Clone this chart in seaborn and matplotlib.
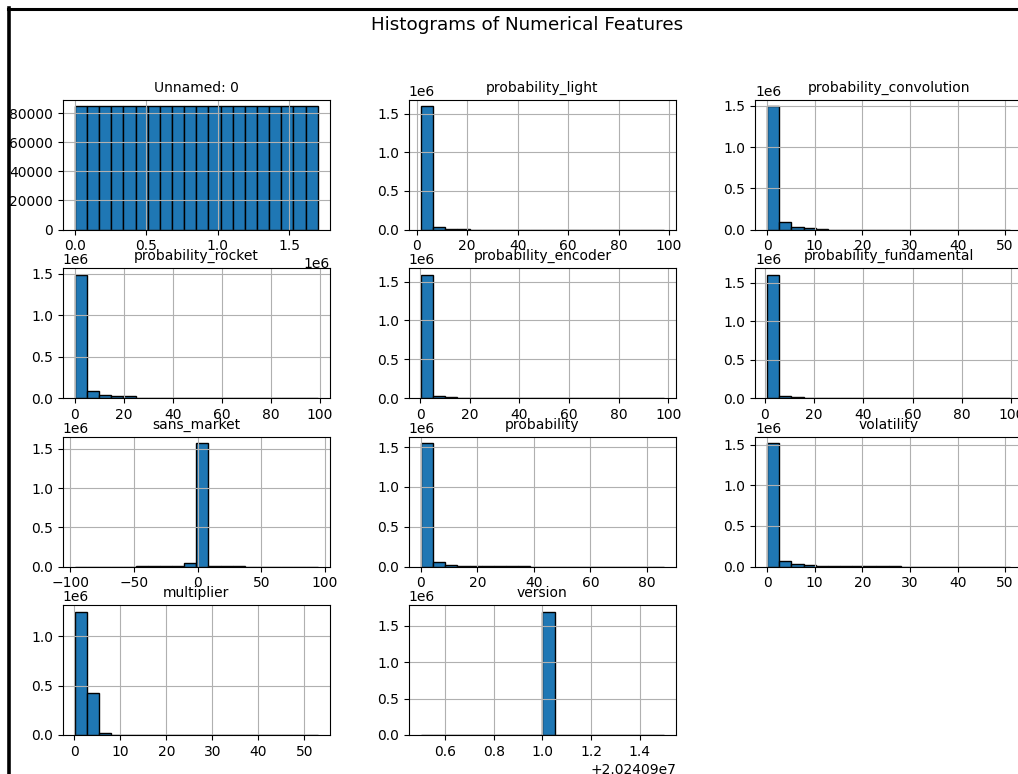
import numpy as np
import pandas as pd
import matplotlib
matplotlib.use("Agg")
import matplotlib.pyplot as plt
from matplotlib.lines import Line2D
import seaborn as sns

# feature names, in plotting order
features = ['Unnamed: 0', 'probability_light', 'probability_convolution',
            'probability_rocket', 'probability_encoder', 'probability_fundamental',
            'sans_market', 'probability', 'volatility',
            'multiplier', 'version']

# min / max of each feature (defines the 20 bins)
ranges = {
    'Unnamed: 0': (0, 1697000),
    'probability_light': (1.7, 97.9),
    'probability_convolution': (0.0, 51.0),
    'probability_rocket': (0.0, 99.2),
    'probability_encoder': (0.3, 98.2),
    'probability_fundamental': (1.0, 99.5),
    'sans_market': (-96.3, 94.3),
    'probability': (0.0, 86.0),
    'volatility': (0.0, 51.0),
    'multiplier': (0.1, 52.9),
    'version': (20240900.5, 20240901.5),
}

# counts per bin (20 bins each)
unnamed_counts = [84850, 84850, 84850, 84850, 84850, 84850, 84850, 84850, 84850, 84850,
                  84850, 84850, 84850, 84850, 84850, 84850, 84850, 84850, 84850, 84850]
light_counts = [1599000, 28000, 11000, 1200, 600, 400, 300, 250, 200, 150,
                120, 100, 90, 80, 70, 60, 50, 40, 30, 60]
convolution_counts = [1497000, 90000, 37000, 14000, 8000, 900, 500, 300, 200, 150,
                      120, 80, 60, 40, 30, 20, 15, 10, 5, 5]
rocket_counts = [1488000, 88000, 40000, 28000, 20000, 6000, 5000, 4000, 3500, 3000,
                 2800, 2500, 2200, 2000, 1800, 1600, 1500, 1400, 1300, 1500]
encoder_counts = [1590000, 30000, 18000, 5000, 3500, 3000, 2500, 2000, 1800, 1600,
                  1500, 1400, 1300, 1200, 1100, 1000, 900, 800, 700, 600]
fundamental_counts = [1608000, 30000, 17000, 5000, 3000, 2500, 2000, 1800, 1600, 1500,
                      1400, 1300, 1200, 1100, 1000, 900, 800, 700, 600, 500]
sans_market_counts = [5, 5, 10, 20, 50, 4000, 4000, 4000, 4500, 47000,
                      1572000, 4000, 3000, 2000, 100, 50, 30, 20, 10, 5]
probability_counts = [1550000, 59000, 21000, 8000, 7000, 6000, 5000, 4500, 4000, 200,
                      100, 80, 60, 40, 30, 20, 15, 10, 5, 5]
volatility_counts = [1520000, 74000, 29000, 16000, 8000, 6000, 5000, 4500, 4000, 3500,
                     3000, 100, 80, 60, 40, 30, 20, 15, 10, 5]
multiplier_counts = [1253000, 422000, 20000, 1500, 500, 200, 100, 60, 40, 30,
                     20, 15, 10, 8, 6, 5, 4, 3, 2, 2]
version_counts = [0, 0, 0, 0, 0, 0, 0, 0, 0, 0,
                  1697000, 0, 0, 0, 0, 0, 0, 0, 0, 0]

counts = {
    'Unnamed: 0': unnamed_counts,
    'probability_light': light_counts,
    'probability_convolution': convolution_counts,
    'probability_rocket': rocket_counts,
    'probability_encoder': encoder_counts,
    'probability_fundamental': fundamental_counts,
    'sans_market': sans_market_counts,
    'probability': probability_counts,
    'volatility': volatility_counts,
    'multiplier': multiplier_counts,
    'version': version_counts,
}

unnamed_yticks = [0, 20000, 40000, 60000, 80000]

fig, axes = plt.subplots(4, 3, figsize=(10.18, 7.74), dpi=100)
plt.subplots_adjust(left=0.0616, right=1.004, top=0.8708, bottom=0.0504,
                     wspace=0.296, hspace=0.30)

for ax, name in zip(axes.flat, features):
    lo, hi = ranges[name]
    edges = np.linspace(lo, hi, 21)
    df = pd.DataFrame({'value': (edges[:-1] + edges[1:]) / 2,
                       'count': counts[name]})
    sns.histplot(data=df, x='value', weights='count', bins=20, binrange=(lo, hi),
                 ax=ax, color='#1f77b4', edgecolor='black', linewidth=1, alpha=1)
    ax.set_title(name, fontsize=10)
    ax.set_xlabel('')
    ax.set_ylabel('')
    ax.grid(True)

axes.flat[0].set_yticks(unnamed_yticks)
axes.flat[-1].remove()

fig.suptitle('Histograms of Numerical Features', x=0.518, y=1 - 25 / 774,
             va='center', fontsize=13.2)

# screenshot frame (top and left edge)
fig.add_artist(Line2D([8 / 1018, 1.0], [1 - 8.5 / 774, 1 - 8.5 / 774],
                      transform=fig.transFigure, color='black', linewidth=2.2))
fig.add_artist(Line2D([9 / 1018, 9 / 1018], [0.0, 1 - 8 / 774],
                      transform=fig.transFigure, color='black', linewidth=2.6))

plt.savefig('out.png', dpi=100)
plt.close()
